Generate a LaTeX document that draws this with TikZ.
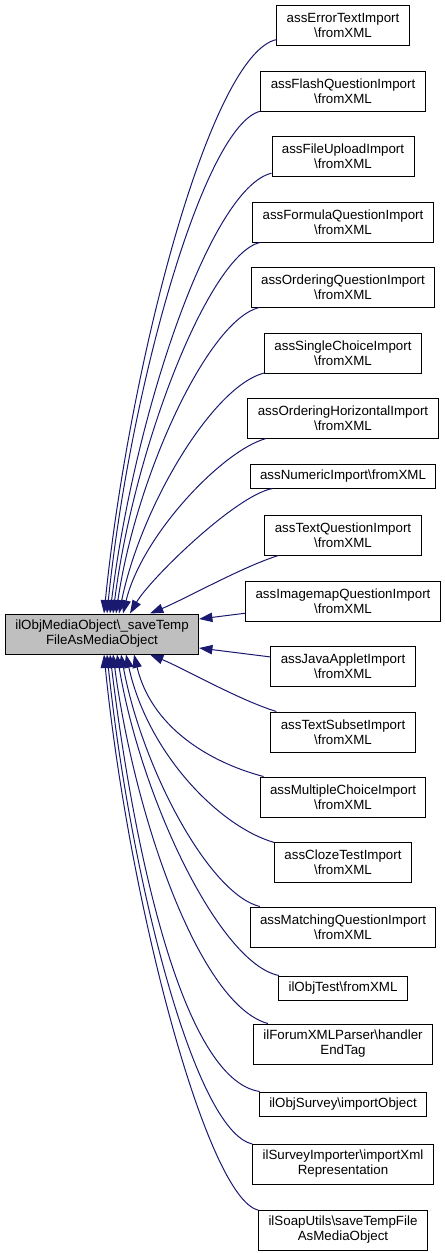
\documentclass[tikz,border=0pt]{standalone}
\usepackage{fontspec}
\setmainfont{Liberation Sans}
\usetikzlibrary{arrows.meta,calc}
\definecolor{edgeblue}{RGB}{25,25,112}
\definecolor{focusgray}{RGB}{191,191,191}

\begin{document}
\begin{tikzpicture}[x=0.75pt,y=-0.75pt,
    fnode/.style={draw=black,fill=white,line width=0.75pt,align=center,
      inner xsep=7.4pt,inner ysep=2pt,font=\fontsize{10}{11.25}\selectfont},
    fnodetwo/.style={fnode,minimum height=30pt},
    fnodeone/.style={fnode,minimum height=18pt},
    focus/.style={fnodetwo,fill=focusgray},
    calledge/.style={draw=edgeblue,line width=0.75pt,-{Triangle[length=10pt,width=7pt]}}]
    \useasboundingbox (0,0) rectangle (445,1253);

    % the function
    \node[focus] (main) at (102,634) {ilObjMediaObject\textbackslash\_saveTemp\\FileAsMediaObject};

    % callers
    \node[fnodetwo] (errtext) at (343,25) {assErrorTextImport\\\textbackslash fromXML};
    \node[fnodetwo] (flashq) at (343,91) {assFlashQuestionImport\\\textbackslash fromXML};
    \node[fnodetwo] (fileup) at (343,156) {assFileUploadImport\\\textbackslash fromXML};
    \node[fnodetwo] (formulaq) at (343,222) {assFormulaQuestionImport\\\textbackslash fromXML};
    \node[fnodetwo] (orderq) at (343,287) {assOrderingQuestionImport\\\textbackslash fromXML};
    \node[fnodetwo] (singlech) at (343,353) {assSingleChoiceImport\\\textbackslash fromXML};
    \node[fnodetwo] (orderhor) at (343,418) {assOrderingHorizontalImport\\\textbackslash fromXML};
    \node[fnodeone] (numeric) at (343,476) {assNumericImport\textbackslash fromXML};
    \node[fnodetwo] (textq) at (343,535) {assTextQuestionImport\\\textbackslash fromXML};
    \node[fnodetwo] (imagemap) at (343,601) {assImagemapQuestionImport\\\textbackslash fromXML};
    \node[fnodetwo] (javaapp) at (343,666) {assJavaAppletImport\\\textbackslash fromXML};
    \node[fnodetwo] (textsub) at (343,732) {assTextSubsetImport\\\textbackslash fromXML};
    \node[fnodetwo] (multich) at (343,797) {assMultipleChoiceImport\\\textbackslash fromXML};
    \node[fnodetwo] (cloze) at (343,862) {assClozeTestImport\\\textbackslash fromXML};
    \node[fnodetwo] (matching) at (343,927) {assMatchingQuestionImport\\\textbackslash fromXML};
    \node[fnodeone] (objtest) at (343,988) {ilObjTest\textbackslash fromXML};
    \node[fnodetwo] (forum) at (343,1044) {ilForumXMLParser\textbackslash handler\\EndTag};
    \node[fnodeone] (objsurvey) at (343,1104) {ilObjSurvey\textbackslash importObject};
    \node[fnodetwo] (surveyimp) at (343,1164) {ilSurveyImporter\textbackslash importXml\\Representation};
    \node[fnodetwo] (soaputils) at (343,1230) {ilSoapUtils\textbackslash saveTempFile\\AsMediaObject};

    % calls from above
    \draw[calledge] (errtext) .. controls (211,54) and (130,359) .. ($(main.north)+(2,0)$);
    \draw[calledge] (flashq) .. controls (204,125) and (130,388) .. ($(main.north)+(5,0)$);
    \draw[calledge] (fileup) .. controls (210,188) and (134,417) .. ($(main.north)+(8,0)$);
    \draw[calledge] (formulaq) .. controls (209,255) and (134,447) .. ($(main.north)+(11,0)$);
    \draw[calledge] (orderq) .. controls (208,320) and (136,476) .. ($(main.north)+(14,0)$);
    \draw[calledge] (singlech) .. controls (213,386) and (141,506) .. ($(main.north)+(17,0)$);
    \draw[calledge] (orderhor) .. controls (223,450) and (142,535) .. ($(main.north)+(21,0)$);
    \draw[calledge] (numeric) .. controls (236,495) and (150,579) .. ($(main.north)+(28,0)$);
    \draw[calledge] (textq) .. controls (242,567) and (185,599) .. ($(main.north)+(48,0)$);

    % calls from the side
    \draw[calledge] (imagemap) -- ($(main.east)+(0,-15)$);
    \draw[calledge] (javaapp) -- ($(main.east)+(0,14)$);

    % calls from below
    \draw[calledge] (textsub) .. controls (239,700) and (185,669) .. ($(main.south)+(48,0)$);
    \draw[calledge] (multich) .. controls (219,765) and (153,733) .. ($(main.south)+(32,0)$);
    \draw[calledge] (cloze) .. controls (220,827) and (148,754) .. ($(main.south)+(24,0)$);
    \draw[calledge] (matching) .. controls (209,894) and (142,768) .. ($(main.south)+(19,0)$);
    \draw[calledge] (objtest) .. controls (220,964) and (141,799) .. ($(main.south)+(15,0)$);
    \draw[calledge] (forum) .. controls (200,1005) and (135,819) .. ($(main.south)+(11,0)$);
    \draw[calledge] (objsurvey) .. controls (183,1080) and (134,852) .. ($(main.south)+(8,0)$);
    \draw[calledge] (surveyimp) .. controls (194,1131) and (130,874) .. ($(main.south)+(5,0)$);
    \draw[calledge] (soaputils) .. controls (207,1198) and (129,904) .. ($(main.south)+(2,0)$);
\end{tikzpicture}
\end{document}
